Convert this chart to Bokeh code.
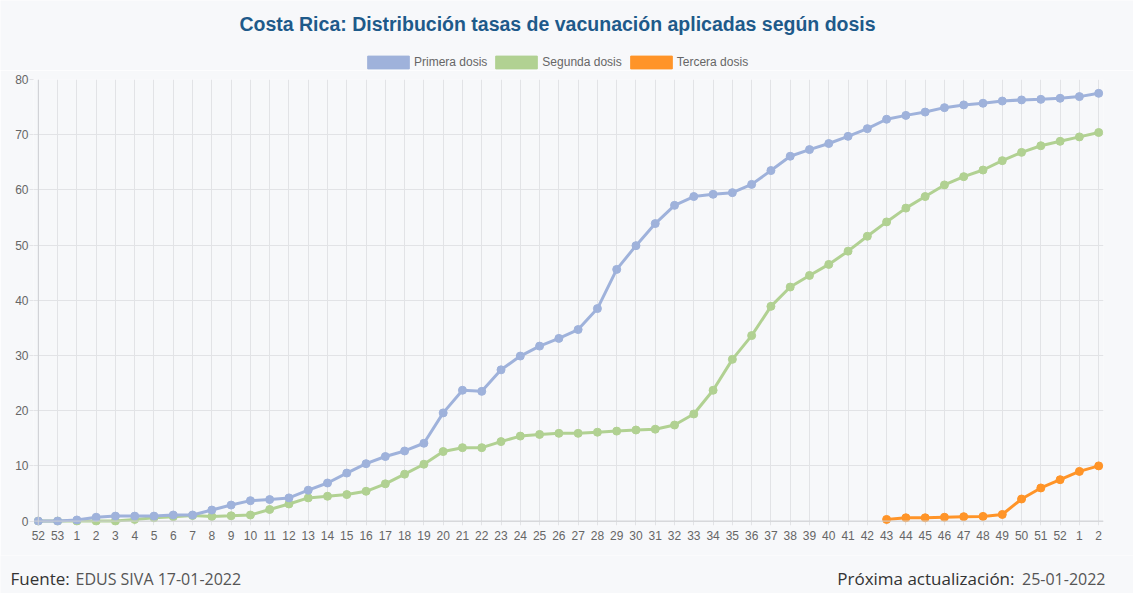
from bokeh.plotting import figure
from bokeh.layouts import column
from bokeh.models import Range1d, FixedTicker, Label, Legend, LegendItem, Span, ColumnDataSource
from bokeh.embed import file_html
from bokeh.resources import INLINE

# ---- data ----
weeks = ["52", "53", "1", "2", "3", "4", "5", "6", "7", "8", "9", "10", "11", "12", "13",
         "14", "15", "16", "17", "18", "19", "20", "21", "22", "23", "24", "25", "26", "27",
         "28", "29", "30", "31", "32", "33", "34", "35", "36", "37", "38", "39", "40", "41",
         "42", "43", "44", "45", "46", "47", "48", "49", "50", "51", "52", "1", "2"]

primera = [0, 0, 0.2, 0.7, 0.9, 0.9, 0.9, 1.1, 1.1, 2.0, 2.9, 3.7, 3.9, 4.2, 5.6, 6.9,
           8.7, 10.4, 11.7, 12.7, 14.1, 19.6, 23.7, 23.5, 27.4, 29.9, 31.7, 33.1, 34.7,
           38.5, 45.6, 49.9, 53.9, 57.2, 58.8, 59.2, 59.5, 61.0, 63.5, 66.1, 67.3, 68.4,
           69.7, 71.1, 72.8, 73.5, 74.1, 74.9, 75.4, 75.7, 76.1, 76.3, 76.4, 76.6, 76.9, 77.5]

segunda = [0, 0, 0, 0, 0, 0.3, 0.6, 0.8, 1.0, 0.85, 0.96, 1.1, 2.1, 3.1, 4.2, 4.5, 4.8,
           5.4, 6.75, 8.5, 10.3, 12.6, 13.3, 13.3, 14.4, 15.4, 15.7, 15.9, 15.9, 16.1, 16.3,
           16.5, 16.65, 17.4, 19.4, 23.7, 29.3, 33.6, 38.9, 42.4, 44.5, 46.5, 48.9, 51.6,
           54.2, 56.7, 58.8, 60.9, 62.4, 63.6, 65.3, 66.8, 68.0, 68.8, 69.6, 70.4]

tercera = [float("nan")] * 44 + [0.3, 0.6, 0.6, 0.7, 0.8, 0.85, 1.2, 4.0, 6.0, 7.5, 9.0, 10.0]

y_ticks = [0, 10, 20, 30, 40, 50, 60, 70, 80]
series_names = ["Primera dosis", "Segunda dosis", "Tercera dosis"]
colors = ["#9fb2db", "#b1d192", "#ff9428"]

title_text = "Costa Rica: Distribución tasas de vacunación aplicadas según dosis"
src_label, src_value = "Fuente:", "EDUS SIVA 17-01-2022"
upd_label, upd_value = "Próxima actualización:", "25-01-2022"

x = list(range(len(weeks)))

W = 1133
BG = "#f7f8fa"
FONT = "Liberation Sans"
FFONT = "Open Sans"
GRID = "#e2e3e6"


def blank(h):
    f = figure(width=W, height=h, output_backend="svg", toolbar_location=None,
               x_range=Range1d(0, W), y_range=Range1d(h, 0),
               x_axis_type=None, y_axis_type=None, frame_align=False,
               min_border_left=0, min_border_right=0, min_border_top=0, min_border_bottom=0,
               background_fill_color=BG, border_fill_color=BG, outline_line_color=None)
    f.xgrid.visible = False
    f.ygrid.visible = False
    return f


# ---- header: title + legend ----
HH = 70
head = blank(HH)
head.add_layout(Label(x=557, y=23, text=title_text, text_align="center", text_baseline="middle",
                      text_font_size="19.5px", text_font_style="bold", text_color="#1e5a8a",
                      text_font=FONT))
legend_items = []
for name, col in zip(series_names, colors):
    # off-canvas swatch renderer, only used for the legend entry
    q = head.quad(left=[-60], right=[-50], top=[-60], bottom=[-50], fill_color=col, line_color=col)
    legend_items.append(LegendItem(label=name, renderers=[q]))
legend = Legend(items=legend_items, orientation="horizontal", location=(362, 0),
                glyph_width=52, glyph_height=16, label_standoff=0, spacing=3,
                padding=0, margin=0, border_line_alpha=0, background_fill_alpha=0,
                label_text_font_size="12px", label_text_color="#666666",
                label_text_font=FONT, label_height=16)
head.add_layout(legend, "center")

# ---- main chart ----
p = figure(width=W, height=485, output_backend="svg", toolbar_location=None,
           x_range=Range1d(-0.25, len(weeks) - 1 + 0.25), y_range=Range1d(-0.8, 80),
           frame_align=False,
           min_border_left=33, min_border_right=30, min_border_top=9, min_border_bottom=30,
           background_fill_color=BG, border_fill_color=BG, outline_line_color=None)

p.xaxis.ticker = FixedTicker(ticks=x)
p.xaxis.major_label_overrides = {i: w for i, w in enumerate(weeks)}
p.xaxis.axis_line_color = None
p.xaxis.major_tick_line_color = None
p.xaxis.major_tick_out = 0
p.xaxis.major_tick_in = 0
p.xaxis.minor_tick_line_color = None
p.xaxis.major_label_standoff = 5
p.xaxis.major_label_text_font_size = "12px"
p.xaxis.major_label_text_color = "#666666"
p.xaxis.major_label_text_font = FONT

p.yaxis.ticker = FixedTicker(ticks=y_ticks)
p.yaxis.axis_line_color = None
p.yaxis.major_tick_line_color = GRID
p.yaxis.major_tick_out = 4
p.yaxis.major_tick_in = 0
p.yaxis.minor_tick_line_color = None
p.yaxis.major_label_standoff = 1
p.yaxis.major_label_text_font_size = "12px"
p.yaxis.major_label_text_color = "#666666"
p.yaxis.major_label_text_font = FONT

p.xgrid.grid_line_color = GRID
p.ygrid.grid_line_color = GRID

p.add_layout(Span(location=0, dimension="width", line_color="#cfd0d3", line_width=1))
p.add_layout(Span(location=0, dimension="height", line_color="#cfd0d3", line_width=1))

data = [primera, segunda, tercera]
for name, vals, col in reversed(list(zip(series_names, data, colors))):
    src = ColumnDataSource(dict(x=x, y=vals))
    p.line("x", "y", source=src, line_color=col, line_width=3)
    p.scatter("x", "y", source=src, size=8, fill_color=col, line_color=col)

# ---- footer ----
FH = 38
foot = blank(FH)
fy = 23
foot.add_layout(Label(x=10, y=fy, text=src_label, text_align="left", text_baseline="middle",
                      text_font_size="17px", text_color="#333333", text_font=FFONT))
foot.add_layout(Label(x=75, y=fy, text=src_value, text_align="left", text_baseline="middle",
                      text_font_size="16px", text_color="#555555", text_font=FFONT))
foot.add_layout(Label(x=1105, y=fy, text=upd_value, text_align="right", text_baseline="middle",
                      text_font_size="16px", text_color="#555555", text_font=FFONT))
foot.add_layout(Label(x=1014, y=fy, text=upd_label, text_align="right", text_baseline="middle",
                      text_font_size="17px", text_color="#333333", text_font=FFONT))

layout = column(head, p, foot, spacing=0)
open("out.html", "w").write(file_html(layout, INLINE))
